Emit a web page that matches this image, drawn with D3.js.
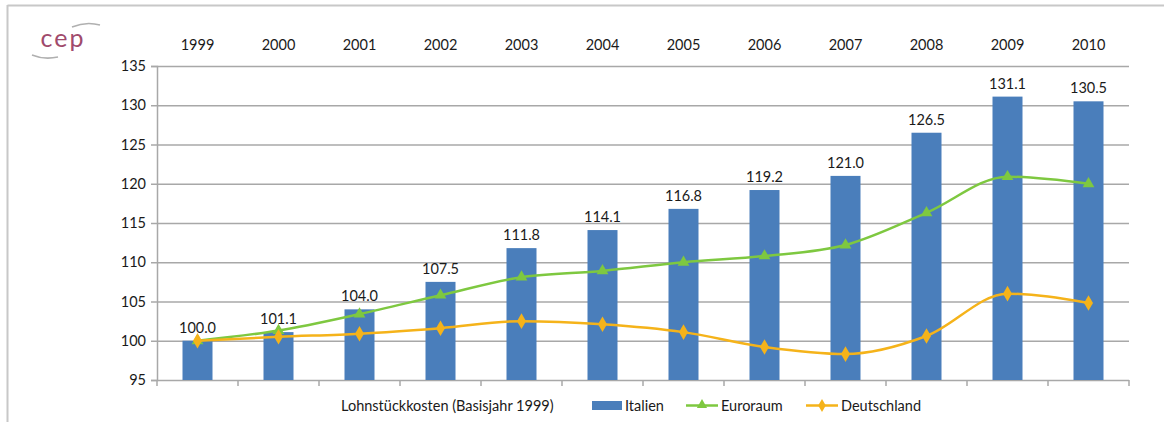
<!DOCTYPE html>
<html>
<head>
<meta charset="utf-8">
<script src="https://cdn.jsdelivr.net/npm/d3@7"></script>
<style>
  body { margin: 0; background: #fff; }
  text { font-family: Lato, "Open Sans", sans-serif; fill: #1a1a1a; }
</style>
</head>
<body>
<svg id="chart" width="1164" height="425"></svg>
<script>
const years = ["1999", "2000", "2001", "2002", "2003", "2004", "2005", "2006", "2007", "2008", "2009", "2010"];
const italien = [100.0, 101.1, 104.0, 107.5, 111.8, 114.1, 116.8, 119.2, 121.0, 126.5, 131.1, 130.5];
const euroraum = [100.0, 101.3, 103.4, 105.8, 108.1, 108.9, 110.0, 110.8, 112.2, 116.3, 120.9, 120.0];
const deutschland = [100.0, 100.5, 100.9, 101.6, 102.5, 102.1, 101.1, 99.2, 98.3, 100.6, 106.0, 104.8];
const yTicks = [95, 100, 105, 110, 115, 120, 125, 130, 135];

const svg = d3.select("#chart");
const fs = "14.5px";

// Rahmen
svg.append("line").attr("x1", 7.5).attr("x2", 1164).attr("y1", 5.5).attr("y2", 5.5)
    .attr("stroke", "#c8c8c8").attr("stroke-width", 2);
svg.append("line").attr("x1", 7.5).attr("x2", 7.5).attr("y1", 5).attr("y2", 422)
    .attr("stroke", "#c8c8c8").attr("stroke-width", 2);

// Logo
const logo = svg.append("g");
logo.append("path").attr("d", "M72,27 Q86,21 100,25").attr("fill", "none")
    .attr("stroke", "#b0b0b0").attr("stroke-width", 1.5);
logo.append("path").attr("d", "M32,55 Q44,60 58,57").attr("fill", "none")
    .attr("stroke", "#b0b0b0").attr("stroke-width", 1.5);
logo.append("text").attr("x", 63).attr("y", 47).attr("text-anchor", "middle")
    .style("font-size", "25px").style("fill", "#a04a6c").style("letter-spacing", "2px")
    .text("cep");

const x = d3.scaleBand().domain(years).range([157, 1129]);
const y = d3.scaleLinear().domain([95, 135]).range([380, 66]);
const barW = 30;

// Gitterlinien
svg.append("g").selectAll("line").data(yTicks.slice(1)).enter().append("line")
    .attr("x1", 157).attr("x2", 1129)
    .attr("y1", d => y(d) + 0.5).attr("y2", d => y(d) + 0.5)
    .attr("stroke", "#a8a8a8").attr("stroke-width", 1.5);

// Y-Achse
const yAxis = svg.append("g").attr("transform", "translate(157,0)")
    .call(d3.axisLeft(y).tickValues(yTicks).tickSize(6).tickPadding(5).tickFormat(d3.format("d")));
yAxis.select(".domain").attr("stroke", "#a8a8a8").attr("stroke-width", 1.5);
yAxis.selectAll(".tick line").attr("stroke", "#a8a8a8").attr("stroke-width", 1.5);
yAxis.selectAll("text").style("font-size", fs).style("fill", "#1a1a1a")
    .style("font-family", "Lato, sans-serif");

// X-Achse unten (Teilstriche an Kategoriegrenzen)
svg.append("line").attr("x1", 157).attr("x2", 1129).attr("y1", 380.5).attr("y2", 380.5)
    .attr("stroke", "#a8a8a8").attr("stroke-width", 1.5);
svg.append("g").selectAll("line").data(years.concat(["end"])).enter().append("line")
    .attr("x1", (d, i) => 157 + i * x.step()).attr("x2", (d, i) => 157 + i * x.step())
    .attr("y1", 380).attr("y2", 386)
    .attr("stroke", "#a8a8a8").attr("stroke-width", 1.5);

// Jahre oben
svg.append("g").selectAll("text").data(years).enter().append("text")
    .attr("x", d => x(d) + x.bandwidth() / 2).attr("y", 50)
    .attr("text-anchor", "middle").style("font-size", fs)
    .text(d => d);

// Balken Italien
svg.append("g").selectAll("rect").data(italien).enter().append("rect")
    .attr("x", (d, i) => x(years[i]) + x.bandwidth() / 2 - barW / 2)
    .attr("width", barW)
    .attr("y", d => y(d))
    .attr("height", d => y(95) - y(d))
    .attr("fill", "#4a7ebb");

svg.append("g").selectAll("text").data(italien).enter().append("text")
    .attr("x", (d, i) => x(years[i]) + x.bandwidth() / 2)
    .attr("y", d => y(d) - 8)
    .attr("text-anchor", "middle").style("font-size", fs)
    .text(d => d.toFixed(1));

const cx = i => x(years[i]) + x.bandwidth() / 2;
const line = d3.line().x((d, i) => cx(i)).y(d => y(d)).curve(d3.curveMonotoneX);

// Euroraum
svg.append("path").datum(euroraum).attr("d", line)
    .attr("fill", "none").attr("stroke", "#7ec840").attr("stroke-width", 2.5);
svg.append("g").selectAll("path").data(euroraum).enter().append("path")
    .attr("d", d3.symbol().type(d3.symbolTriangle).size(60))
    .attr("transform", (d, i) => `translate(${cx(i)},${y(d)})`)
    .attr("fill", "#7ec840");

// Deutschland
svg.append("path").datum(deutschland).attr("d", line)
    .attr("fill", "none").attr("stroke", "#f5b31a").attr("stroke-width", 2.5);
svg.append("g").selectAll("path").data(deutschland).enter().append("path")
    .attr("d", d3.symbol().type(d3.symbolDiamond).size(70))
    .attr("transform", (d, i) => `translate(${cx(i)},${y(d)})`)
    .attr("fill", "#f5b31a");

// Legende
svg.append("text").attr("x", 341).attr("y", 411).style("font-size", fs)
    .text("Lohnstückkosten (Basisjahr 1999)");
const leg = svg.append("g");
leg.append("rect").attr("x", 592).attr("y", 401).attr("width", 30).attr("height", 9).attr("fill", "#4a7ebb");
leg.append("text").attr("x", 625).attr("y", 411).style("font-size", fs).text("Italien");
leg.append("line").attr("x1", 686).attr("x2", 718).attr("y1", 405.5).attr("y2", 405.5)
    .attr("stroke", "#7ec840").attr("stroke-width", 2.5);
leg.append("path").attr("d", d3.symbol().type(d3.symbolTriangle).size(45))
    .attr("transform", "translate(702,405)").attr("fill", "#7ec840");
leg.append("text").attr("x", 721).attr("y", 411).style("font-size", fs).text("Euroraum");
leg.append("line").attr("x1", 806).attr("x2", 838).attr("y1", 405.5).attr("y2", 405.5)
    .attr("stroke", "#f5b31a").attr("stroke-width", 2.5);
leg.append("path").attr("d", d3.symbol().type(d3.symbolDiamond).size(50))
    .attr("transform", "translate(822,405.5)").attr("fill", "#f5b31a");
leg.append("text").attr("x", 841).attr("y", 411).style("font-size", fs).text("Deutschland");
</script>
</body>
</html>
